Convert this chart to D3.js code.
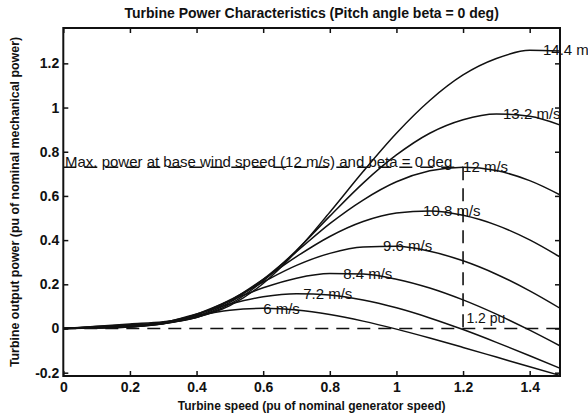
<!DOCTYPE html>
<html>
<head>
<meta charset="utf-8">
<script src="https://cdn.jsdelivr.net/npm/d3@7/dist/d3.min.js"></script>
<style>
    body { margin: 0; background: #fff; }
    text { font-family: "Liberation Sans", Arial, sans-serif; fill: #111; }
</style>
</head>
<body>
<div id="chart"></div>
<script>
// Turbine speed grid (pu of nominal generator speed)
const turbineSpeed = [0, 0.1, 0.2, 0.3, 0.4, 0.5, 0.6, 0.7, 0.8, 0.9, 1.0, 1.1, 1.2, 1.3, 1.4, 1.5];

// Output power (pu of nominal mechanical power), one list per wind speed
const power6 = [0, 0.0017, 0.0064, 0.0278, 0.0593, 0.083, 0.0913, 0.0836, 0.0632, 0.0334, -0.0028, -0.0431, -0.0857, -0.1293, -0.173, -0.2162];
const power72 = [0, 0.0025, 0.0064, 0.0255, 0.0658, 0.1105, 0.1434, 0.1574, 0.1517, 0.1292, 0.0935, 0.0479, -0.0048, -0.0626, -0.1233, -0.1856];
const power84 = [0, 0.0034, 0.0074, 0.0227, 0.0649, 0.1254, 0.1841, 0.2277, 0.2486, 0.2465, 0.2232, 0.1832, 0.1293, 0.0648, -0.0077, -0.0859];
const power96 = [0, 0.0045, 0.009, 0.0213, 0.0603, 0.1293, 0.2106, 0.2855, 0.340, 0.3692, 0.3718, 0.3495, 0.3063, 0.2457, 0.1703, 0.0836];
const power108 = [0, 0.0057, 0.0114, 0.0216, 0.0549, 0.1253, 0.2221, 0.3254, 0.4165, 0.4841, 0.5228, 0.5318, 0.5121, 0.4678, 0.401, 0.3155];
const power12 = [0, 0.007, 0.014, 0.0231, 0.0512, 0.1179, 0.2222, 0.3476, 0.4745, 0.5813, 0.664, 0.7137, 0.7303, 0.7148, 0.6694, 0.5981];
const power132 = [0, 0.0085, 0.0169, 0.0261, 0.0502, 0.1099, 0.2152, 0.3538, 0.5085, 0.6581, 0.7854, 0.8838, 0.9449, 0.971, 0.9605, 0.9162];
const power144 = [0, 0.01, 0.0202, 0.0302, 0.0512, 0.1038, 0.2037, 0.35, 0.5264, 0.7106, 0.8838, 1.032, 1.1474, 1.2218, 1.2588, 1.2549];

// Curve labels, placed at each curve's maximum power point
const windLabels = ["6 m/s", "7.2 m/s", "8.4 m/s", "9.6 m/s", "10.8 m/s", "12 m/s", "13.2 m/s", "14.4 m/s"];
const peakSpeed = [0.6, 0.72, 0.84, 0.96, 1.08, 1.2, 1.32, 1.44];
const peakPower = [0.091, 0.158, 0.25, 0.374, 0.532, 0.73, 0.972, 1.261];

// Base wind speed operating point
const ratedSpeed = 1.2;
const ratedPower = 0.73;

// Axis ticks
const xTicks = [0, 0.2, 0.4, 0.6, 0.8, 1, 1.2, 1.4];
const xTickLabels = ["0", "0.2", "0.4", "0.6", "0.8", "1", "1.2", "1.4"];
const yTicks = [-0.2, 0, 0.2, 0.4, 0.6, 0.8, 1, 1.2];
const yTickLabels = ["-0.2", "0", "0.2", "0.4", "0.6", "0.8", "1", "1.2"];

const curves = [power6, power72, power84, power96, power108, power12, power132, power144];

// Chart dimensions
const width = 588;
const height = 416;
const plot = { left: 63.3, top: 28, right: 560, bottom: 376 };

const svg = d3.select("#chart")
    .append("svg")
    .attr("width", width)
    .attr("height", height);

const x = d3.scaleLinear()
    .domain([0, 1.491])
    .range([plot.left, plot.right]);

const y = d3.scaleLinear()
    .domain([-0.215, 1.36])
    .range([plot.bottom, plot.top]);

svg.append("clipPath")
    .attr("id", "plot-clip")
    .append("rect")
    .attr("x", plot.left)
    .attr("y", plot.top)
    .attr("width", plot.right - plot.left)
    .attr("height", plot.bottom - plot.top);

const area = svg.append("g").attr("clip-path", "url(#plot-clip)");

// Power curves
const line = d3.line()
    .x((d, i) => x(turbineSpeed[i]))
    .y(d => y(d))
    .curve(d3.curveMonotoneX);

area.selectAll(".curve")
    .data(curves)
    .enter()
    .append("path")
    .attr("class", "curve")
    .attr("d", line)
    .attr("fill", "none")
    .attr("stroke", "#111")
    .attr("stroke-width", 1.5);

// Dashed reference lines
const dash = "13,8";
const refLines = [
    [[0, ratedPower], [ratedSpeed, ratedPower]],
    [[ratedSpeed, ratedPower], [ratedSpeed, 0]],
    [[0, 0], [x.domain()[1], 0]]
];
area.selectAll(".ref")
    .data(refLines)
    .enter()
    .append("path")
    .attr("class", "ref")
    .attr("d", d3.line().x(d => x(d[0])).y(d => y(d[1])))
    .attr("fill", "none")
    .attr("stroke", "#111")
    .attr("stroke-width", 1.6)
    .attr("stroke-dasharray", dash);

// Curve labels (the 14.4 m/s one runs past the right edge, as in the original)
svg.selectAll(".wind-label")
    .data(windLabels)
    .enter()
    .append("text")
    .attr("class", "wind-label")
    .attr("x", (d, i) => x(peakSpeed[i]))
    .attr("y", (d, i) => y(peakPower[i]))
    .attr("dy", "0.35em")
    .style("font-size", "15px")
    .text(d => d);

svg.append("text")
    .attr("x", x(0.005))
    .attr("y", y(0.755))
    .attr("dy", "0.35em")
    .style("font-size", "15px")
    .text("Max. power at base wind speed (12 m/s) and beta = 0 deg");

svg.append("text")
    .attr("x", x(1.21))
    .attr("y", y(0.045))
    .attr("dy", "0.35em")
    .style("font-size", "14px")
    .text("1.2 pu");

// Axes with inward ticks on all four sides
svg.append("g")
    .attr("transform", `translate(0,${plot.bottom})`)
    .call(d3.axisBottom(x).tickValues(xTicks).tickFormat((d, i) => xTickLabels[i])
        .tickSizeInner(-5).tickSizeOuter(0).tickPadding(6));

svg.append("g")
    .attr("transform", `translate(0,${plot.top})`)
    .call(d3.axisTop(x).tickValues(xTicks).tickFormat("")
        .tickSizeInner(-5).tickSizeOuter(0));

svg.append("g")
    .attr("transform", `translate(${plot.left},0)`)
    .call(d3.axisLeft(y).tickValues(yTicks).tickFormat((d, i) => yTickLabels[i])
        .tickSizeInner(-5).tickSizeOuter(0).tickPadding(4));

svg.append("g")
    .attr("transform", `translate(${plot.right},0)`)
    .call(d3.axisRight(y).tickValues(yTicks).tickFormat("")
        .tickSizeInner(-5).tickSizeOuter(0));

svg.selectAll(".domain").remove();
svg.selectAll(".tick line").attr("stroke", "#111").attr("stroke-width", 1.5);
svg.selectAll(".tick text")
    .style("font-family", "'Liberation Sans', Arial, sans-serif")
    .style("font-size", "14px")
    .style("font-weight", "bold")
    .attr("fill", "#111");

svg.append("rect")
    .attr("x", plot.left)
    .attr("y", plot.top)
    .attr("width", plot.right - plot.left)
    .attr("height", plot.bottom - plot.top)
    .attr("fill", "none")
    .attr("stroke", "#111")
    .attr("stroke-width", 2);

// Title and axis labels
svg.append("text")
    .attr("x", (plot.left + plot.right) / 2)
    .attr("y", 18)
    .attr("text-anchor", "middle")
    .style("font-size", "14px")
    .style("font-weight", "bold")
    .text("Turbine Power Characteristics (Pitch angle beta = 0 deg)");

svg.append("text")
    .attr("x", (plot.left + plot.right) / 2)
    .attr("y", 410)
    .attr("text-anchor", "middle")
    .style("font-size", "12px")
    .style("font-weight", "bold")
    .text("Turbine speed (pu of nominal generator speed)");

svg.append("text")
    .attr("transform", `translate(19,${(plot.top + plot.bottom) / 2}) rotate(-90)`)
    .attr("text-anchor", "middle")
    .style("font-size", "12.4px")
    .style("font-weight", "bold")
    .text("Turbine output power (pu of nominal mechanical power)");
</script>
</body>
</html>
